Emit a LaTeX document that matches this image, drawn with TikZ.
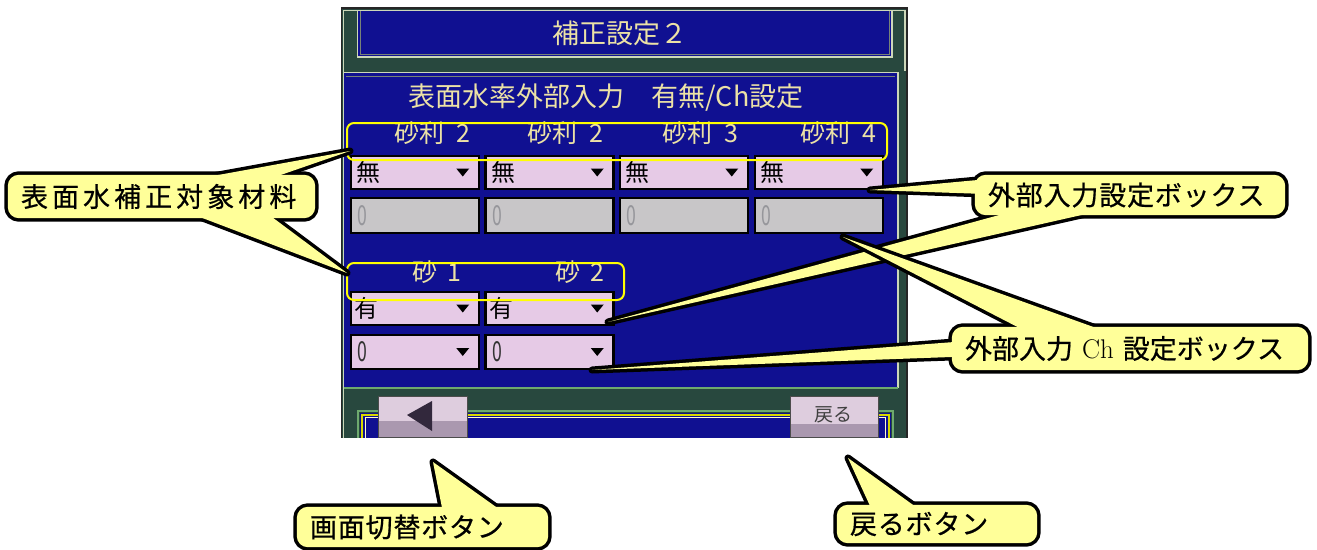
\documentclass[tikz,border=0pt]{standalone}
\usepackage{fontspec}
\usepackage{graphicx}
\newfontfamily\jp{Noto Sans CJK JP}
\newfontfamily\jpc[FakeBold=0.6]{Noto Sans CJK JP}
\usetikzlibrary{calc}
\definecolor{scrblue}{RGB}{16,16,145}
\definecolor{scrteal}{RGB}{40,72,62}
\definecolor{frameL}{RGB}{205,215,185}
\definecolor{frameD}{RGB}{120,130,120}
\definecolor{frameG}{RGB}{110,170,110}
\definecolor{scrtxt}{RGB}{236,226,166}
\definecolor{pinkc}{RGB}{230,202,230}
\definecolor{grayc}{RGB}{200,198,200}
\definecolor{zeroc}{RGB}{150,150,155}
\definecolor{cally}{RGB}{255,255,153}
\definecolor{btntop}{RGB}{222,205,222}
\definecolor{btnbot}{RGB}{170,152,175}
\definecolor{btntri}{RGB}{50,40,60}
\definecolor{selY}{RGB}{255,255,0}
\pgfdeclarelayer{scr}
\pgfdeclarelayer{sa}\pgfdeclarelayer{fa}
\pgfdeclarelayer{sb}\pgfdeclarelayer{fb}
\pgfdeclarelayer{sc}\pgfdeclarelayer{fc}
\pgfdeclarelayer{sd}\pgfdeclarelayer{fd}
\pgfdeclarelayer{se}\pgfdeclarelayer{fe}
\pgfsetlayers{scr,sa,fa,sb,fb,sc,fc,sd,fd,se,fe,main}
\newcommand\mybubble[4]{%
  \begin{pgfonlayer}{#2}
    \draw[line width=7,line join=round,rounded corners=11] (#1.south west) rectangle (#1.north east);
    \draw[line width=7,line join=round] #4;
  \end{pgfonlayer}
  \begin{pgfonlayer}{#3}
    \fill[cally,rounded corners=11] (#1.south west) rectangle (#1.north east);
    \fill[cally] #4;
  \end{pgfonlayer}}
\tikzset{
  cbox/.style={inner xsep=13pt, inner ysep=0pt, align=left, font=\jpc\fontsize{27}{27}\selectfont, text=black},
  scrlabel/.style={inner sep=0pt, text=scrtxt, font=\jp\fontsize{26}{26}\selectfont},
  ddbox/.style={draw=black, line width=2.5, fill=pinkc, minimum width=128, minimum height=33, inner sep=0pt},
  graybox/.style={draw=black, line width=2.5, fill=grayc, minimum width=128, minimum height=35, inner sep=0pt},
  boxtxt/.style={inner sep=0pt, anchor=west, text=black, font=\jp\fontsize{24}{24}\selectfont},
  zerotxt/.style={inner sep=0pt, anchor=west, text=zeroc, font=\jp\fontsize{22}{22}\selectfont},
  grp/.style={draw=selY, line width=2, rounded corners=7}
}
\begin{document}
\begin{tikzpicture}[x=1pt,y=-1pt]
\useasboundingbox (0,0) rectangle (1317,549);
\begin{pgfonlayer}{scr}
  % screen body
  \fill[black!85] (341,7) rectangle (908,438);
  \fill[scrteal] (342,9) rectangle (906,438);
  \draw[frameL, line width=1.5] (343.5,438) -- (343.5,10.5) -- (905,10.5) -- (905,71);
  % title box
  \fill[scrblue] (358,11) rectangle (891,56);
  \draw[frameL, line width=1.5] (357.5,10.5) -- (357.5,57) -- (892,57) -- (892,10.5);
  \draw[frameD, line width=1] (360.5,11) -- (360.5,54) -- (889,54) -- (889,11);
  % main panel
  \fill[scrblue] (344,73) rectangle (897,387);
  \draw[frameL, line width=1.5] (343.5,72.5) -- (898,72.5) -- (898,388);
  \draw[frameD, line width=1] (346,76) -- (895,76);
  \draw[frameG, line width=2] (343.5,388) -- (898,388);
  % bottom inner frame
  \fill[scrblue] (360,413) rectangle (891,438);
  \draw[frameG, line width=1.5] (358,438) -- (358,411) -- (893,411) -- (893,438);
  \draw[selY!85!black, line width=2] (362,438) -- (362,414.5) -- (889,414.5) -- (889,438);
  \draw[white!80!yellow, line width=1] (365.5,438) -- (365.5,417.5) -- (885.5,417.5) -- (885.5,438);
  % buttons
  \fill[btntop] (378,396) rectangle (467,437);
  \fill[btnbot] (378,421) rectangle (467,437);
  \draw[black!70, line width=1] (378,396) rectangle (467,437);
  \fill[btntri] (407,415) -- (432,401) -- (432,431) -- cycle;
  \fill[btntop] (790,396) rectangle (878,437);
  \fill[btnbot] (790,424) rectangle (878,437);
  \draw[black!70, line width=1] (790,396) rectangle (878,437);
  \node[inner sep=0pt, text=black!75, font=\jp\fontsize{19}{19}\selectfont] (back) at (833,415) {戻る};
  % texts
  \node[scrlabel, font=\jp\fontsize{27}{27}\selectfont] (title) at (620,33) {補正設定２};
  \node[scrlabel, font=\jp\fontsize{27}{27}\selectfont] (head) at (606,98) {表面水率外部入力　有無/Ch設定};
  \node[scrlabel, font=\jp\fontsize{25}{25}\selectfont] (g1) at (432,133) {砂利\hspace{12pt}2};
  \node[scrlabel, font=\jp\fontsize{25}{25}\selectfont] (g2) at (565,133) {砂利\hspace{12pt}2};
  \node[scrlabel, font=\jp\fontsize{25}{25}\selectfont] (g3) at (700,133) {砂利\hspace{12pt}3};
  \node[scrlabel, font=\jp\fontsize{25}{25}\selectfont] (g4) at (838,133) {砂利\hspace{12pt}4};
  \node[scrlabel, font=\jp\fontsize{25}{25}\selectfont] (s1) at (437,272) {砂\hspace{10pt}1};
  \node[scrlabel, font=\jp\fontsize{25}{25}\selectfont] (s2) at (580,272) {砂\hspace{10pt}2};
  % dropdown rows
  \foreach \x/\n in {415/1,549.5/2,684/3,819/4} {
    \node[ddbox] (a\n) at (\x,172.5) {};
    \node[boxtxt] (at\n) at ($(a\n.west)+(7,0)$) {無};
    \fill[black] ($(a\n.east)+(-24,-4)$) -- ($(a\n.east)+(-11,-4)$) -- ($(a\n.east)+(-17.5,4)$) -- cycle;
    \node[graybox] (b\n) at (\x,215.5) {};
    \node[zerotxt] (bt\n) at ($(b\n.west)+(8,0)$) {\scalebox{0.8}[1.25]{0}};
  }
  \foreach \x/\n in {415/1,549.5/2} {
    \node[ddbox] (c\n) at (\x,308.5) {};
    \node[boxtxt] (ct\n) at ($(c\n.west)+(5,0)$) {有};
    \fill[black] ($(c\n.east)+(-24,-4)$) -- ($(c\n.east)+(-11,-4)$) -- ($(c\n.east)+(-17.5,4)$) -- cycle;
    \node[ddbox, minimum height=34] (d\n) at (\x,352) {};
    \node[zerotxt, text=black!80] (dt\n) at ($(d\n.west)+(8,0)$) {\scalebox{0.8}[1.25]{0}};
    \fill[black] ($(d\n.east)+(-24,-4)$) -- ($(d\n.east)+(-11,-4)$) -- ($(d\n.east)+(-17.5,4)$) -- cycle;
  }
  % selection groups
  \draw[grp] (347,123) rectangle (887,160);
  \draw[grp] (347,263) rectangle (624,300);
\end{pgfonlayer}
% target points
\coordinate (p1) at (350,151);
\coordinate (p2) at (347,273);
\coordinate (p3) at (870,190);
\coordinate (p4) at (608,322);
\coordinate (p5) at (592,370);
\coordinate (p6) at (843,237);
\coordinate (p7) at (433,462);
\coordinate (p8) at (848,458);
% callouts
\node[cbox, text width=281, minimum height=43] (k1) at (161.5,196.5) {\addfontfeature{LetterSpace=15}表面水補正対象材料};
\mybubble{k1}{sa}{fa}{($(k1.north west)+(184,5)$) -- (p1) -- ($(k1.north west)+(259,5)$) -- cycle ($(k1.south west)+(182,-5)$) -- (p2) -- ($(k1.south west)+(259,-5)$) -- cycle}
\node[cbox, text width=225, minimum height=40] (k4) at (422.5,527) {\addfontfeature{LetterSpace=3}画面切替ボタン};
\mybubble{k4}{sb}{fb}{($(k4.north west)+(146,5)$) -- (p7) -- ($(k4.north west)+(206,5)$) -- cycle}
\node[cbox, text width=174, minimum height=38] (k5) at (937,524) {\addfontfeature{LetterSpace=3}戻るボタン};
\mybubble{k5}{sc}{fc}{($(k5.north west)+(35,5)$) -- (p8) -- ($(k5.north west)+(83,5)$) -- cycle}
\node[cbox, text width=284, minimum height=40] (k2) at (1130,195) {\addfontfeature{LetterSpace=3}外部入力設定ボックス};
\mybubble{k2}{sd}{fd}{($(k2.north west)+(5,5)$) -- (p3) -- ($(k2.north west)+(5,19)$) -- cycle ($(k2.south west)+(42,-5)$) -- (p4) -- ($(k2.south west)+(128,-5)$) -- cycle}
\node[cbox, text width=330, minimum height=43] (k3) at (1130,348.5) {外部入力 {\rmfamily Ch} 設定ボックス};
\mybubble{k3}{se}{fe}{($(k3.north west)+(5,15)$) -- (p5) -- ($(k3.north west)+(5,30)$) -- cycle ($(k3.north west)+(75,5)$) -- (p6) -- ($(k3.north west)+(155,5)$) -- cycle}
\end{tikzpicture}
\end{document}
